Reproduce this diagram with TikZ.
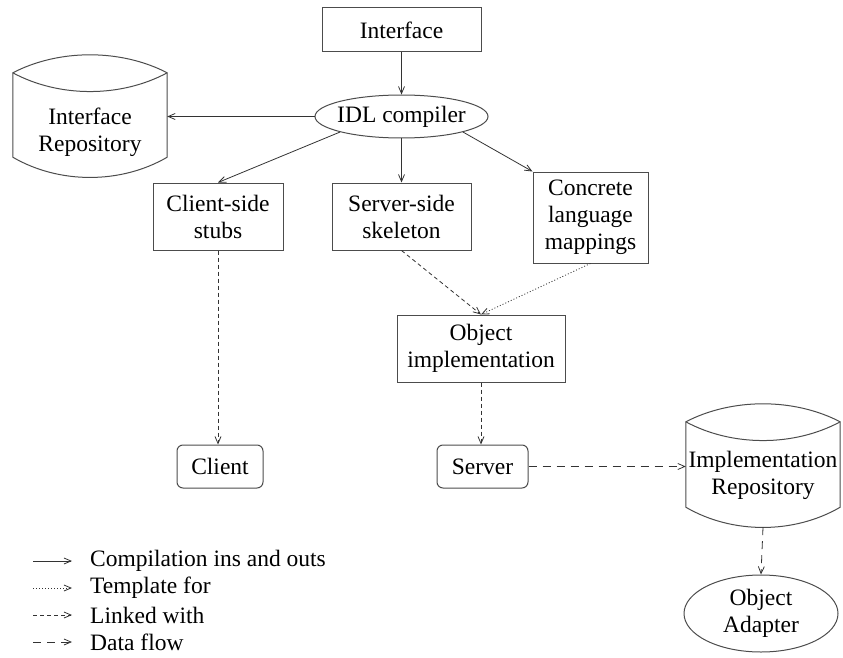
\documentclass[tikz,border=0pt]{standalone}
\usepackage{fontspec}
\setmainfont{Liberation Serif}
\usetikzlibrary{arrows.meta,shapes.geometric,calc}

% Drum-shaped repository outline around a (textless) rectangle node
\newcommand\repooutline[1]{%
  \draw[outline] (#1.north west)
      .. controls ($(#1.north west)!0.3!(#1.north east)+(0,-24)$)
             and ($(#1.north west)!0.7!(#1.north east)+(0,-24)$) .. (#1.north east)
    -- (#1.south east)
      .. controls ($(#1.south east)!0.3!(#1.south west)+(0,27)$)
             and ($(#1.south east)!0.7!(#1.south west)+(0,27)$) .. (#1.south west)
    -- cycle;
  \draw[outline] (#1.north west)
      .. controls ($(#1.north west)!0.3!(#1.north east)+(0,25)$)
             and ($(#1.north west)!0.7!(#1.north east)+(0,25)$) .. (#1.north east);}

\begin{document}
\begin{tikzpicture}[x=1pt,y=-1pt,
  font=\fontsize{23.5}{27}\selectfont,
  outline/.style={draw=black!70,line width=1pt},
  box/.style={outline,rectangle,align=center,inner sep=0pt},
  rbox/.style={box,rounded corners=6pt},
  oval/.style={outline,ellipse,align=center,inner sep=0pt},
  repo/.style={rectangle,inner sep=0pt,minimum width=154pt,minimum height=84pt},
  repotext/.style={align=center,inner sep=0pt},
  conn/.style={draw=black!80,line width=0.8pt,-{Straight Barb[length=7pt,width=6pt]}},
  compile/.style={conn},
  template/.style={conn,dash pattern=on 1pt off 2pt},
  linked/.style={conn,dash pattern=on 4pt off 3pt},
  dataflow/.style={conn,dash pattern=on 8pt off 6pt},
  legendtext/.style={anchor=west,inner sep=0pt}
]
\useasboundingbox (0,0) rectangle (843,658);

% compiler input and outputs
\node[box,minimum width=159pt,minimum height=44pt] (iface) at (401.5,30) {Interface};
\node[oval,inner xsep=-10pt,minimum width=173pt,minimum height=43pt] (idl) at (401.5,116.5) {IDL compiler};
\node[repo,label={[repotext,yshift=-17pt]center:{Interface\\Repository}}] (irepo) at (90,115) {};
\repooutline{irepo}
\node[box,minimum width=130pt,minimum height=67pt] (stubs) at (218,216.5) {Client-side\\stubs};
\node[box,minimum width=139pt,minimum height=67pt] (skel) at (401.5,216.5) {Server-side\\skeleton};
\node[box,minimum width=115pt,minimum height=91pt] (maps) at (590.5,217.5) {Concrete\\language\\mappings};

% programs built from them
\node[box,minimum width=168pt,minimum height=67pt] (impl) at (481,348.5) {Object\\implementation};
\node[rbox,minimum width=86pt,minimum height=43pt] (client) at (220,466.5) {Client};
\node[rbox,minimum width=91pt,minimum height=43pt] (server) at (482.5,466.5) {Server};
\node[repo,minimum height=85pt,label={[repotext,yshift=-11pt]center:{Implementation\\Repository}}] (implrepo) at (763,464.5) {};
\repooutline{implrepo}
\node[oval,minimum width=154pt,minimum height=77pt] (adapter) at (761,613.5) {Object\\Adapter};

% connectors
\draw[compile] (iface) -- (idl);
\draw[compile] (idl.west) -- (idl.west -| irepo.east);
\draw[compile] (idl.south west) -- (stubs.north);
\draw[compile] (idl) -- (skel);
\draw[compile] (idl.south east) -- (maps.north west);
\draw[linked] (stubs.south) -- (stubs.south |- client.north);
\draw[linked] (skel.south) -- (impl.north);
\draw[template] (maps.south) -- (impl.north);
\draw[linked] (impl.south) -- (impl.south |- server.north);
\draw[dataflow] (server.east) -- (server.east -| implrepo.west);
\draw[dataflow] ($(implrepo.south)+(0,20)$) -- (adapter.north);

% legend
\node[legendtext] (lg1) at (90,561) {Compilation ins and outs};
\node[legendtext] (lg2) at (90,588) {Template for};
\node[legendtext] (lg3) at (90,615) {Linked with};
\node[legendtext] (lg4) at (90,642) {Data flow};
\coordinate (k1) at (33,561);
\coordinate (k2) at (33,588);
\coordinate (k3) at (33,615);
\coordinate (k4) at (33,642);
\draw[compile,shorten >=18pt] (k1) -- (lg1.west);
\draw[template,shorten >=18pt] (k2) -- (lg2.west);
\draw[linked,shorten >=18pt] (k3) -- (lg3.west);
\draw[dataflow,shorten >=18pt] (k4) -- (lg4.west);
\end{tikzpicture}
\end{document}
